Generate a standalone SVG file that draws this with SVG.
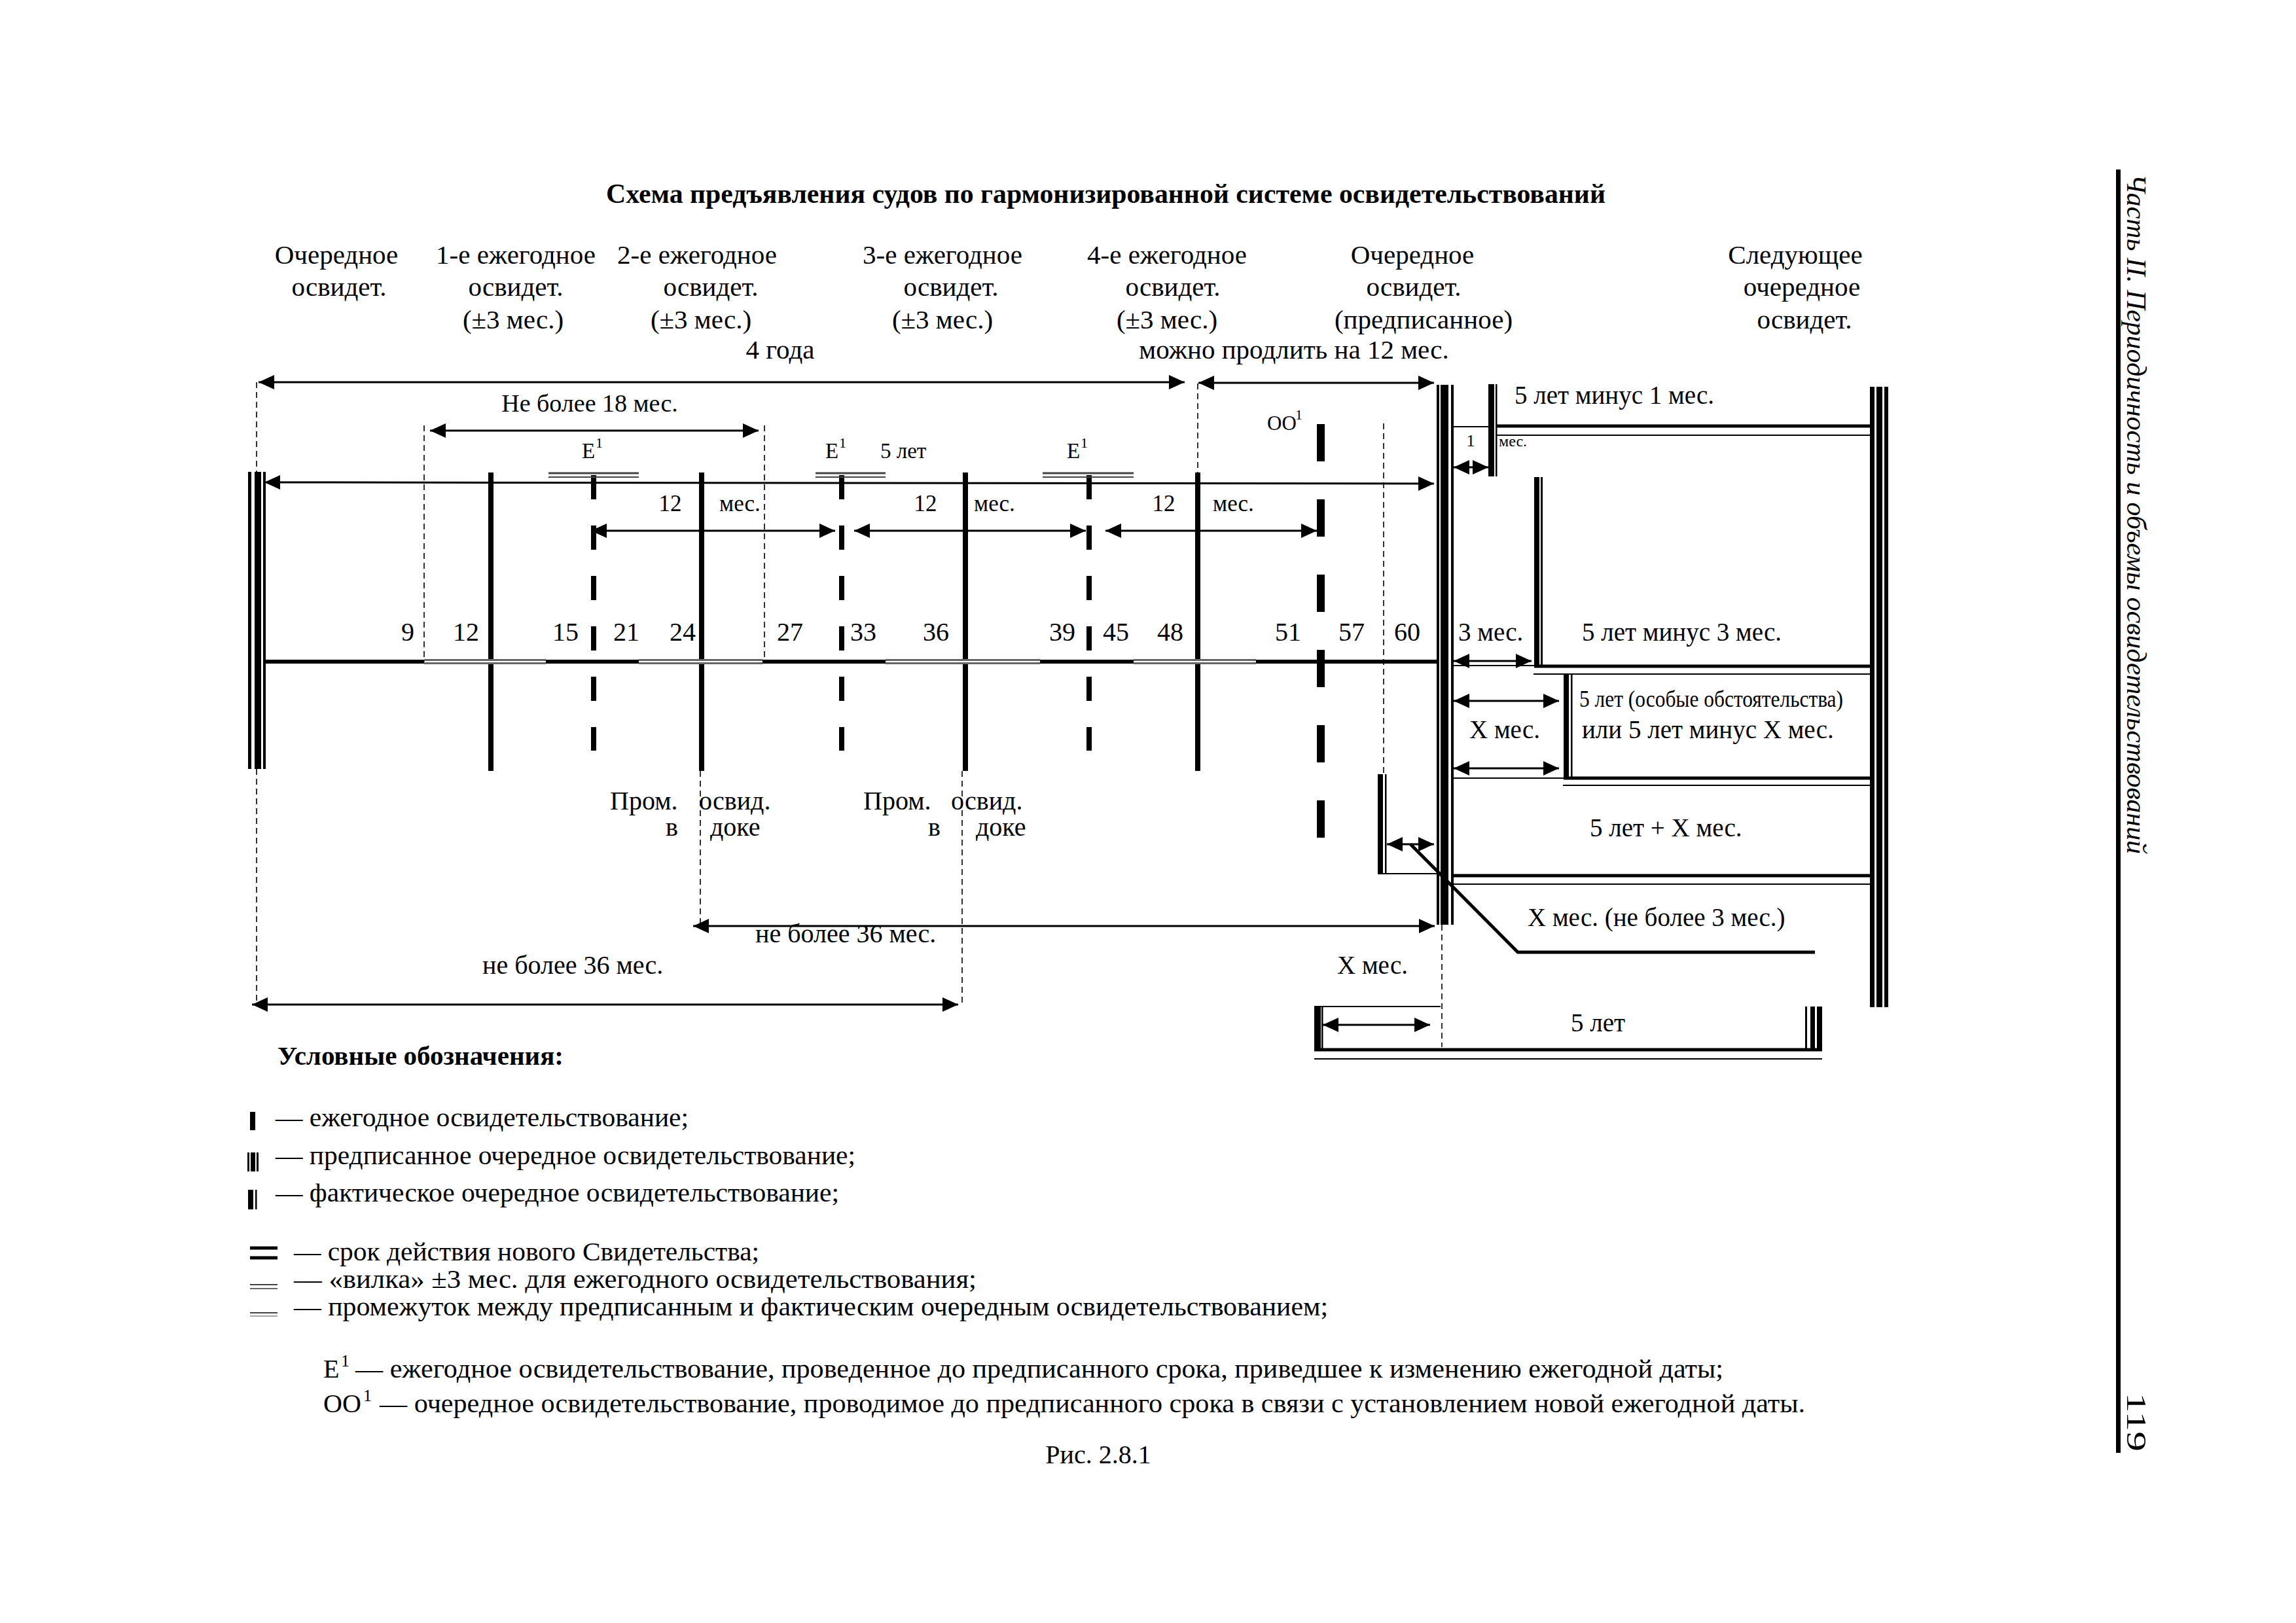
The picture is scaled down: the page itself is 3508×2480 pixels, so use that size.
<svg xmlns="http://www.w3.org/2000/svg" width="3508" height="2480" viewBox="0 0 3508 2480">
<defs>
<style>
text{font-family:"Liberation Serif","Times New Roman",serif;fill:#000}
.h{font-size:41px;text-anchor:middle}
.n{font-size:40px;text-anchor:middle}
.m{font-size:35px}
.s{font-size:33px}
.r{font-size:39px}
.lg{font-size:40px}
.sup{font-size:22px}
.ln{stroke:#000;fill:none}
.ar{stroke:#000;stroke-width:3;fill:none;marker-start:url(#a);marker-end:url(#a)}
.dsh{stroke:#000;stroke-width:1.6;stroke-dasharray:9 6;fill:none}
.ebar{stroke:#000;stroke-width:8;stroke-dasharray:37 40;fill:none}
.oobar{stroke:#000;stroke-width:12;stroke-dasharray:57 58;fill:none}
.vk{stroke:#666;stroke-width:8;fill:none}
.vkw{stroke:#fff;stroke-width:2;fill:none}
.thick{stroke:#000;stroke-width:5;fill:none}
.thin{stroke:#000;stroke-width:2;fill:none}
</style>
<marker id="a" viewBox="0 0 24 22" refX="24" refY="11" markerWidth="24" markerHeight="22" markerUnits="userSpaceOnUse" orient="auto-start-reverse"><path d="M0,0 L24,11 L0,22 z" fill="#000"/></marker>
</defs>
<rect width="3508" height="2480" fill="#fff"/>

<g id="title"><text x="926" y="310" font-size="42" font-weight="bold" textLength="1527" lengthAdjust="spacingAndGlyphs">Схема предъявления судов по гармонизированной системе освидетельствований</text></g>

<g id="headers">
<text class="h" x="514" y="403">Очередное</text><text class="h" x="518" y="452">освидет.</text>
<text class="h" x="788" y="403">1-е ежегодное</text><text class="h" x="788" y="452">освидет.</text><text class="h" x="784" y="502">(±3 мес.)</text>
<text class="h" x="1065" y="403">2-е ежегодное</text><text class="h" x="1086" y="452">освидет.</text><text class="h" x="1071" y="502">(±3 мес.)</text>
<text class="h" x="1440" y="403">3-е ежегодное</text><text class="h" x="1453" y="452">освидет.</text><text class="h" x="1440" y="502">(±3 мес.)</text>
<text class="h" x="1783" y="403">4-е ежегодное</text><text class="h" x="1792" y="452">освидет.</text><text class="h" x="1783" y="502">(±3 мес.)</text>
<text class="h" x="2158" y="403">Очередное</text><text class="h" x="2160" y="452">освидет.</text><text class="h" x="2175" y="502">(предписанное)</text>
<text class="h" x="2743" y="403">Следующее</text><text class="h" x="2753" y="452">очередное</text><text class="h" x="2757" y="502">освидет.</text>
<text class="h" x="1192" y="548">4 года</text>
<text class="h" x="1977" y="548">можно продлить на 12 мес.</text>
</g>

<g id="bars">
<g id="bar-start"><rect x="379" y="721" width="5" height="454"/><rect x="389" y="721" width="10" height="454"/><rect x="402" y="721" width="4" height="454"/></g>
<g id="bar-annual"><rect x="746" y="722" width="8" height="456"/><rect x="1068" y="722" width="8" height="456"/><rect x="1471" y="722" width="8" height="456"/><rect x="1826" y="722" width="8" height="456"/></g>
<g id="bar-e1"><line class="ebar" x1="907" y1="726" x2="907" y2="1147"/><line class="ebar" x1="1286" y1="726" x2="1286" y2="1147"/><line class="ebar" x1="1664" y1="726" x2="1664" y2="1147"/></g>
<g id="bar-oo1"><line class="oobar" x1="2018" y1="648" x2="2018" y2="1290"/></g>
<g id="bar-actual"><rect x="2105" y="1183" width="8" height="153"/><rect x="2116" y="1183" width="2.5" height="153"/></g>
<g id="bar-prescribed"><rect x="2195" y="588" width="4" height="825"/><rect x="2201" y="588" width="12" height="825"/><rect x="2217" y="588" width="4" height="825"/></g>
<g id="bar-1m"><rect x="2274" y="587" width="9" height="141"/><rect x="2285" y="587" width="2.5" height="141"/></g>
<g id="bar-3m"><rect x="2344" y="729" width="8" height="289"/><rect x="2354" y="729" width="3" height="289"/></g>
<g id="bar-special"><rect x="2389" y="1029" width="8" height="161"/><rect x="2400" y="1029" width="2.5" height="161"/></g>
<g id="bar-next"><rect x="2857" y="591" width="7" height="948"/><rect x="2867" y="591" width="9" height="948"/><rect x="2879" y="591" width="6" height="948"/></g>
<g id="bar-5y-box"><rect x="2008" y="1538" width="10" height="68"/><rect x="2019" y="1538" width="2.5" height="68"/><rect x="2758" y="1538" width="3" height="68"/><rect x="2766" y="1538" width="7" height="68"/><rect x="2776" y="1538" width="8" height="68"/></g>
</g>

<g id="connectors">
<line class="ln" stroke-width="6" x1="406" y1="1011" x2="2195" y2="1011"/>
<g id="vilka">
<line class="vk" x1="648" y1="1011" x2="834" y2="1011"/><line class="vkw" x1="648" y1="1011" x2="834" y2="1011"/>
<line class="vk" x1="976" y1="1011" x2="1165" y2="1011"/><line class="vkw" x1="976" y1="1011" x2="1165" y2="1011"/>
<line class="vk" x1="1353" y1="1011" x2="1589" y2="1011"/><line class="vkw" x1="1353" y1="1011" x2="1589" y2="1011"/>
<line class="vk" x1="1732" y1="1011" x2="1919" y2="1011"/><line class="vkw" x1="1732" y1="1011" x2="1919" y2="1011"/>
</g>
<g id="e1-doubles" stroke="#444" fill="none">
<line stroke-width="3" x1="838" y1="723" x2="976" y2="723"/><line stroke-width="2" x1="838" y1="729" x2="976" y2="729"/>
<line stroke-width="3" x1="1246" y1="723" x2="1353" y2="723"/><line stroke-width="2" x1="1246" y1="729" x2="1353" y2="729"/>
<line stroke-width="3" x1="1593" y1="723" x2="1732" y2="723"/><line stroke-width="2" x1="1593" y1="729" x2="1732" y2="729"/>
</g>
<line class="ar" x1="395" y1="584" x2="1810" y2="584"/>
<line class="ar" x1="1831" y1="585" x2="2191" y2="585"/>
<line class="ar" x1="657" y1="658" x2="1159" y2="658"/>
<line class="ar" stroke-width="2.5" x1="404" y1="737" x2="2191" y2="739"/>
<line class="ar" stroke-width="2.5" x1="903" y1="811" x2="1276" y2="811"/>
<line class="ar" stroke-width="2.5" x1="1305" y1="811" x2="1659" y2="811"/>
<line class="ar" stroke-width="2.5" x1="1689" y1="811" x2="2012" y2="811"/>
<line class="ar" stroke-width="2.5" x1="2221" y1="714" x2="2274" y2="714"/>
<line class="ar" stroke-width="2.5" x1="2221" y1="1010" x2="2340" y2="1010"/>
<line class="ar" stroke-width="2.5" x1="2221" y1="1071" x2="2382" y2="1071"/>
<line class="ar" stroke-width="2.5" x1="2221" y1="1174" x2="2382" y2="1174"/>
<line class="ar" stroke-width="2.5" x1="2119" y1="1290" x2="2191" y2="1290"/>
<line class="ar" x1="1059" y1="1415" x2="2192" y2="1415"/>
<line class="ar" x1="385" y1="1535" x2="1464" y2="1535"/>
<line class="ar" stroke-width="2.5" x1="2021" y1="1566" x2="2185" y2="1566"/>
<line class="thin" x1="2221" y1="652" x2="2274" y2="652"/>
<line class="thick" x1="2287" y1="651" x2="2857" y2="651"/><line class="thin" x1="2287" y1="665" x2="2857" y2="665"/>
<line class="thin" x1="2221" y1="1017" x2="2344" y2="1017"/>
<line class="thick" x1="2344" y1="1018" x2="2857" y2="1018"/><line class="thin" x1="2343" y1="1030" x2="2857" y2="1030"/>
<line class="thin" x1="2221" y1="1189" x2="2389" y2="1189"/>
<line class="thick" x1="2389" y1="1189" x2="2857" y2="1189"/><line class="thin" x1="2388" y1="1200" x2="2857" y2="1200"/>
<line class="thick" x1="2221" y1="1338" x2="2857" y2="1338"/><line class="thin" x1="2221" y1="1351" x2="2857" y2="1351"/>
<line class="thin" x1="2105" y1="1335" x2="2195" y2="1335"/>
<polyline class="ln" stroke-width="5" points="2155,1290 2319,1455 2773,1455"/>
<line class="thin" x1="2008" y1="1538" x2="2201" y2="1538"/>
<line class="thick" x1="2008" y1="1604" x2="2784" y2="1604"/><line class="thin" x1="2008" y1="1618" x2="2784" y2="1618"/>
<line class="dsh" x1="392" y1="584" x2="392" y2="721"/>
<line class="dsh" x1="392" y1="1175" x2="392" y2="1535"/>
<line class="dsh" x1="648" y1="650" x2="648" y2="1011"/>
<line class="dsh" x1="1168" y1="650" x2="1168" y2="1011"/>
<line class="dsh" x1="1830" y1="586" x2="1830" y2="727"/>
<line class="dsh" x1="2114" y1="647" x2="2114" y2="1183"/>
<line class="dsh" x1="1070" y1="1178" x2="1070" y2="1413"/>
<line class="dsh" x1="1470" y1="1178" x2="1470" y2="1535"/>
<line class="dsh" x1="2203" y1="1413" x2="2203" y2="1600"/>
</g>

<g id="labels">
<text x="901" y="629" font-size="38" text-anchor="middle">Не более 18 мес.</text>
<text class="s" x="889" y="700">E</text><text class="sup" x="910" y="684">1</text>
<text class="s" x="1261" y="700">E</text><text class="sup" x="1282" y="684">1</text>
<text class="s" x="1345" y="700">5 лет</text>
<text class="s" x="1630" y="700">E</text><text class="sup" x="1651" y="684">1</text>
<text x="1936" y="657" font-size="31">OO</text><text class="sup" x="1979" y="641">1</text>
<text class="m" x="1024" y="781" text-anchor="middle">12</text><text class="m" x="1099" y="781">мес.</text>
<text class="m" x="1414" y="781" text-anchor="middle">12</text><text class="m" x="1488" y="781">мес.</text>
<text class="m" x="1778" y="781" text-anchor="middle">12</text><text class="m" x="1853" y="781">мес.</text>
<text class="n" x="623" y="979">9</text><text class="n" x="712" y="979">12</text><text class="n" x="864" y="979">15</text><text class="n" x="957" y="979">21</text><text class="n" x="1043" y="979">24</text><text class="n" x="1207" y="979">27</text><text class="n" x="1319" y="979">33</text><text class="n" x="1430" y="979">36</text><text class="n" x="1623" y="979">39</text><text class="n" x="1705" y="979">45</text><text class="n" x="1788" y="979">48</text><text class="n" x="1968" y="979">51</text><text class="n" x="2065" y="979">57</text><text class="n" x="2150" y="979">60</text>
<text class="r" x="2314" y="617">5 лет минус 1 мес.</text>
<text x="2247" y="682" font-size="26" text-anchor="middle">1</text><text x="2290" y="682" font-size="24">мес.</text>
<text class="r" x="2228" y="979">3 мес.</text>
<text class="r" x="2417" y="979">5 лет минус 3 мес.</text>
<text x="2413" y="1080" font-size="36" textLength="403" lengthAdjust="spacingAndGlyphs">5 лет (особые обстоятельства)</text>
<text class="r" x="2245" y="1128">X мес.</text>
<text class="r" x="2417" y="1128">или 5 лет минус X мес.</text>
<text class="r" x="2429" y="1278">5 лет + X мес.</text>
<text class="r" x="2334" y="1415">X мес. (не более 3 мес.)</text>
<text class="r" x="2043" y="1488">X мес.</text>
<text class="r" x="2400" y="1576">5 лет</text>
<text class="lg" x="932" y="1237">Пром.</text><text class="lg" x="1068" y="1237">освид.</text>
<text class="lg" x="1017" y="1277">в</text><text class="lg" x="1085" y="1277">доке</text>
<text class="lg" x="1319" y="1237">Пром.</text><text class="lg" x="1453" y="1237">освид.</text>
<text class="lg" x="1418" y="1277">в</text><text class="lg" x="1491" y="1277">доке</text>
<text class="lg" x="1154" y="1440">не более 36 мес.</text>
<text class="lg" x="737" y="1488">не более 36 мес.</text>
</g>

<g id="legend">
<text x="424" y="1627" font-size="40" font-weight="bold" textLength="437" lengthAdjust="spacingAndGlyphs">Условные обозначения:</text>
<rect x="382" y="1699" width="8" height="28"/>
<rect x="378" y="1761" width="3" height="29"/><rect x="383" y="1761" width="7" height="29"/><rect x="392" y="1761" width="3" height="29"/>
<rect x="379" y="1818" width="8" height="30"/><rect x="390" y="1818" width="2.5" height="30"/>
<line class="thick" x1="382" y1="1907" x2="424" y2="1907"/><line class="thick" x1="382" y1="1922" x2="424" y2="1922"/>
<line stroke="#444" stroke-width="2" x1="382" y1="1963" x2="424" y2="1963"/><line stroke="#666" stroke-width="2" x1="382" y1="1969" x2="424" y2="1969"/>
<line stroke="#444" stroke-width="2" x1="382" y1="2006" x2="424" y2="2006"/><line stroke="#888" stroke-width="1.5" x1="382" y1="2011" x2="424" y2="2011"/>
<text class="lg" x="421" y="1721" textLength="631" lengthAdjust="spacingAndGlyphs">— ежегодное освидетельствование;</text>
<text class="lg" x="421" y="1779" textLength="886" lengthAdjust="spacingAndGlyphs">— предписанное очередное освидетельствование;</text>
<text class="lg" x="421" y="1836" textLength="861" lengthAdjust="spacingAndGlyphs">— фактическое очередное освидетельствование;</text>
<text class="lg" x="449" y="1926" textLength="711" lengthAdjust="spacingAndGlyphs">— срок действия нового Свидетельства;</text>
<text class="lg" x="449" y="1968" textLength="1043" lengthAdjust="spacingAndGlyphs">— «вилка» ±3 мес. для ежегодного освидетельствования;</text>
<text class="lg" x="449" y="2010" textLength="1580" lengthAdjust="spacingAndGlyphs">— промежуток между предписанным и фактическим очередным освидетельствованием;</text>
</g>

<g id="notes">
<text class="lg" x="494" y="2105">E</text><text x="521" y="2088" font-size="26">1</text>
<text class="lg" x="543" y="2105" textLength="2090" lengthAdjust="spacingAndGlyphs">— ежегодное освидетельствование, проведенное до предписанного срока, приведшее к изменению ежегодной даты;</text>
<text class="lg" x="494" y="2158">OO</text><text x="555" y="2141" font-size="26">1</text>
<text class="lg" x="580" y="2158" textLength="2178" lengthAdjust="spacingAndGlyphs">— очередное освидетельствование, проводимое до предписанного срока в связи с установлением новой ежегодной даты.</text>
<text class="lg" x="1678" y="2236" text-anchor="middle">Рис. 2.8.1</text>
</g>

<g id="page-header">
<rect x="3233" y="259" width="7" height="1961"/>
<text transform="translate(3250,266) rotate(90)" font-size="42" font-style="italic" textLength="1039" lengthAdjust="spacingAndGlyphs">Часть II. Периодичность и объемы освидетельствований</text>
<text transform="translate(3250,2128) rotate(90)" font-size="42" textLength="90" lengthAdjust="spacingAndGlyphs">119</text>
</g>
</svg>
